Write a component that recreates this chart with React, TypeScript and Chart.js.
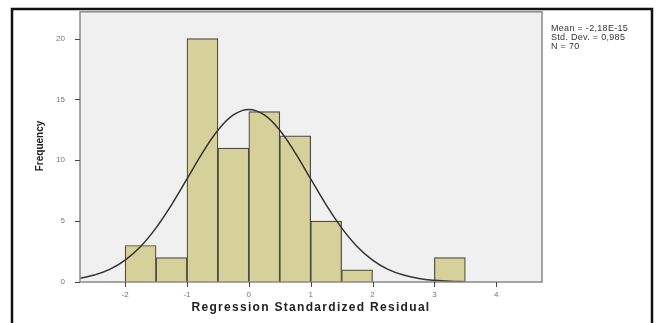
import React, { useEffect, useRef } from "react";
import { Chart, registerables } from "chart.js";

Chart.register(...registerables);

const binCenters = [-1.75, -1.25, -0.75, -0.25, 0.25, 0.75, 1.25, 1.75, 3.25];
const binCounts = [3, 2, 20, 11, 14, 12, 5, 1, 2];
const curveX = [-2.73, -2.5, -2.25, -2, -1.75, -1.5, -1.25, -1, -0.75, -0.5, -0.25, 0, 0.25, 0.5, 0.75, 1, 1.25, 1.5, 1.75, 2, 2.25, 2.5, 2.75, 3, 3.25, 3.5];
const curveY = [0.3, 0.57, 1.04, 1.8, 2.92, 4.45, 6.34, 8.47, 10.61, 12.47, 13.73, 14.18, 13.73, 12.47, 10.61, 8.47, 6.34, 4.45, 2.92, 1.8, 1.04, 0.57, 0.29, 0.14, 0.06, 0.03];
const xTicks = [-2, -1, 0, 1, 2, 3, 4];
const yTicks = [0, 5, 10, 15, 20];
const statsLines = ["Mean = -2,18E-15", "Std. Dev. = 0,985", "N = 70"];
const xTitle = "Regression Standardized Residual";
const yTitle = "Frequency";

export default function App() {
  const ref = useRef<HTMLCanvasElement>(null);
  useEffect(() => {
    document.body.style.margin = "0";
    const canvas = ref.current!;
    const decor = {
      id: "decor",
      beforeDraw(chart: any) {
        const { ctx, chartArea: a } = chart;
        ctx.save();
        ctx.fillStyle = "#ffffff";
        ctx.fillRect(0, 0, chart.width, chart.height);
        ctx.fillStyle = "#f0f0f0";
        ctx.fillRect(a.left, a.top, a.right - a.left, a.bottom - a.top);
        ctx.restore();
      },
      afterDraw(chart: any) {
        const { ctx, chartArea: a, scales } = chart;
        ctx.save();
        ctx.strokeStyle = "#8a8a8a";
        ctx.lineWidth = 1.5;
        ctx.strokeRect(a.left, a.top, a.right - a.left, a.bottom - a.top);
        ctx.strokeStyle = "#444";
        ctx.lineWidth = 1;
        ctx.beginPath();
        xTicks.forEach((v) => {
          const px = Math.round(scales.x.getPixelForValue(v)) + 0.5;
          ctx.moveTo(px, a.bottom);
          ctx.lineTo(px, a.bottom + 5);
        });
        yTicks.forEach((v) => {
          const py = Math.round(scales.y.getPixelForValue(v)) + 0.5;
          ctx.moveTo(a.left - 5, py);
          ctx.lineTo(a.left, py);
        });
        ctx.stroke();
        ctx.strokeStyle = "#111";
        ctx.lineWidth = 2.5;
        ctx.beginPath();
        ctx.moveTo(12, 330);
        ctx.lineTo(12, 9);
        ctx.lineTo(652, 9);
        ctx.lineTo(652, 330);
        ctx.stroke();
        ctx.fillStyle = "#333";
        ctx.font = "9px 'Liberation Sans', Arial, sans-serif";
        (ctx as any).letterSpacing = "0.3px";
        ctx.textBaseline = "middle";
        statsLines.forEach((s, i) => ctx.fillText(s, 551, 29 + i * 9));
        ctx.fillStyle = "#222";
        ctx.font = "bold 12px 'Liberation Sans', Arial, sans-serif";
        (ctx as any).letterSpacing = "1.3px";
        ctx.textAlign = "center";
        ctx.fillText(xTitle, (a.left + a.right) / 2, 308);
        ctx.translate(40, 146);
        ctx.rotate(-Math.PI / 2);
        ctx.font = "bold 10px 'Liberation Sans', Arial, sans-serif";
        (ctx as any).letterSpacing = "0px";
        ctx.fillText(yTitle, 0, 0);
        ctx.restore();
      },
    };
    const chart = new Chart(canvas, {
      type: "bar",
      data: {
        datasets: [
          {
            type: "line",
            data: curveX.map((x, i) => ({ x, y: curveY[i] })),
            borderColor: "#333",
            borderWidth: 1.5,
            pointRadius: 0,
            tension: 0.4,
            fill: false,
            order: 0,
          } as any,
          {
            type: "bar",
            data: binCenters.map((x, i) => ({ x, y: binCounts[i] })),
            backgroundColor: "#d6d09a",
            borderColor: "#4a4a3e",
            borderWidth: 1.2,
            barPercentage: 1,
            categoryPercentage: 1,
            order: 1,
          } as any,
        ],
      },
      options: {
        animation: false,
        responsive: false,
        layout: { padding: { left: 48, top: 11, right: 117, bottom: 15 } },
        plugins: { legend: { display: false }, tooltip: { enabled: false } },
        scales: {
          x: {
            type: "linear",
            min: -2.73,
            max: 4.74,
            offset: false,
            afterBuildTicks: (s: any) => {
              s.ticks = xTicks.map((v) => ({ value: v }));
            },
            afterFit: (s: any) => {
              s.height = 26;
            },
            grid: { display: false },
            border: { display: false },
            ticks: { color: "#777", font: { size: 8, family: "'Liberation Sans', Arial" }, padding: 0, maxRotation: 0 },
          },
          y: {
            type: "linear",
            min: 0,
            max: 22.2,
            afterBuildTicks: (s: any) => {
              s.ticks = yTicks.map((v) => ({ value: v }));
            },
            afterFit: (s: any) => {
              s.width = 32;
            },
            grid: { display: false },
            border: { display: false },
            ticks: { color: "#777", font: { size: 8, family: "'Liberation Sans', Arial" }, padding: 7 },
          },
        },
      } as any,
      plugins: [decor],
    });
    return () => chart.destroy();
  }, []);
  return <canvas ref={ref} width={659} height={323} style={{ display: "block" }} />;
}
